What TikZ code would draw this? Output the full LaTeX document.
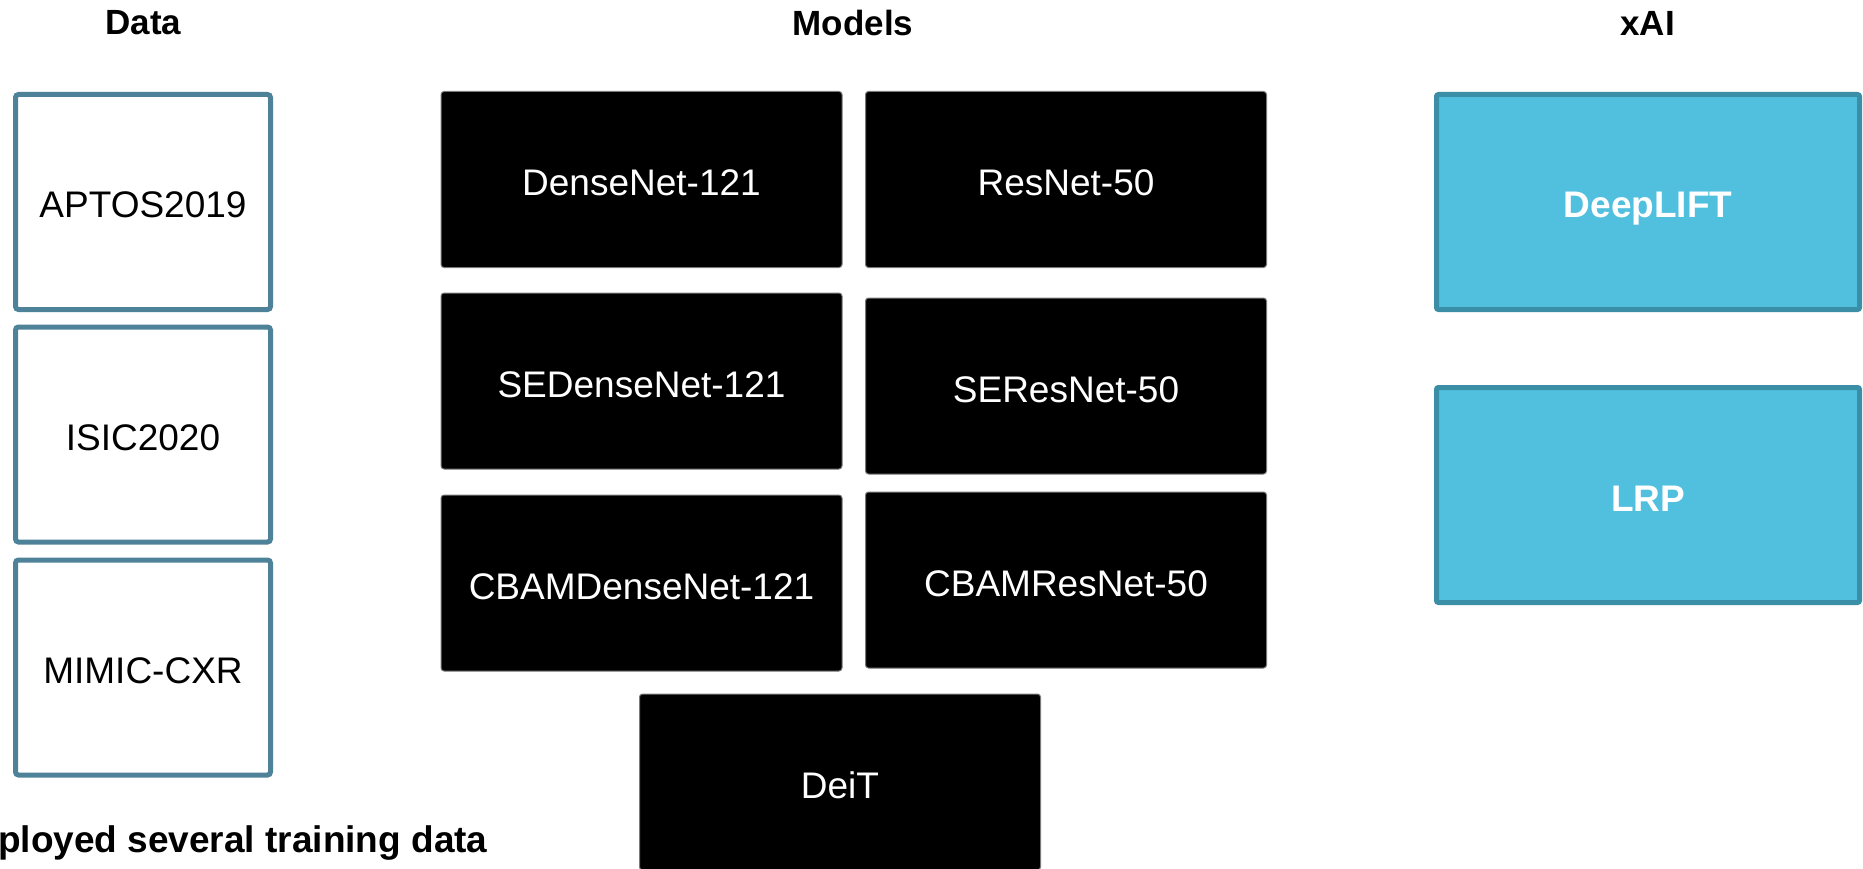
\documentclass[tikz,border=0pt]{standalone}
\usepackage{fontspec}
\setmainfont{Liberation Sans}
\definecolor{databorder}{HTML}{4E8299}
\definecolor{xaifill}{HTML}{51BFDE}
\definecolor{xaiborder}{HTML}{3A8FA7}
\definecolor{modelborder}{HTML}{7A7A7A}
\tikzset{
  header/.style={font=\fontsize{35}{42}\selectfont\bfseries, inner sep=0pt},
  boxtext/.style={text height=32pt, text depth=0pt},
  databox/.style={boxtext, draw=databorder, line width=5pt, fill=white, rounded corners=3pt,
    minimum width=255pt, minimum height=215pt, inner sep=0pt, outer sep=0pt,
    font=\fontsize{37}{44}\selectfont},
  modelbox/.style={boxtext, draw=modelborder, line width=1pt, fill=black, rounded corners=3pt,
    minimum width=401pt, minimum height=176pt, inner sep=0pt, outer sep=0pt,
    text=white, font=\fontsize{37}{44}\selectfont},
  xaibox/.style={boxtext, draw=xaiborder, line width=5pt, fill=xaifill, rounded corners=2pt,
    minimum width=423pt, minimum height=215pt, inner sep=0pt, outer sep=0pt,
    text=white, font=\fontsize{37}{44}\selectfont\bfseries},
  note/.style={font=\fontsize{37}{42}\selectfont\bfseries, inner sep=0pt, anchor=base west},
}
\begin{document}
\begin{tikzpicture}[x=1pt,y=-1pt]
\clip (0,0) rectangle (1863,869);
\fill[white] (0,0) rectangle (1863,869);
% headers
\node[header] (hdata) at (143.5,23) {Data};
\node[header] (hmodels) at (853,23) {Models};
\node[header] (hxai) at (1647.5,23) {xAI};
% data
\node[databox] (aptos) at (143,202) {APTOS2019};
\node[databox] (isic) at (143,434.5) {ISIC2020};
\node[databox] (mimic) at (143,667.5) {MIMIC-CXR};
% models
\node[modelbox] (densenet) at (641.5,179.5) {DenseNet-121};
\node[modelbox] (resnet) at (1066,179.5) {ResNet-50};
\node[modelbox] (sedensenet) at (641.5,381) {SEDenseNet-121};
\node[modelbox] (seresnet) at (1066,386) {SEResNet-50};
\node[modelbox] (cbamdensenet) at (641.5,583) {CBAMDenseNet-121};
\node[modelbox] (cbamresnet) at (1066,580) {CBAMResNet-50};
\node[modelbox] (deit) at (840,782) {DeiT};
% xAI
\node[xaibox] (deeplift) at (1648,202) {DeepLIFT};
\node[xaibox] (lrp) at (1648,495) {LRP};
% note
\node[note] (note1) at (-2,852) {ployed several training data};
\node[note] (note2) at (-2,896) {sizes (i.e., 10\%, 50\%, and 100\%)};
\end{tikzpicture}
\end{document}
